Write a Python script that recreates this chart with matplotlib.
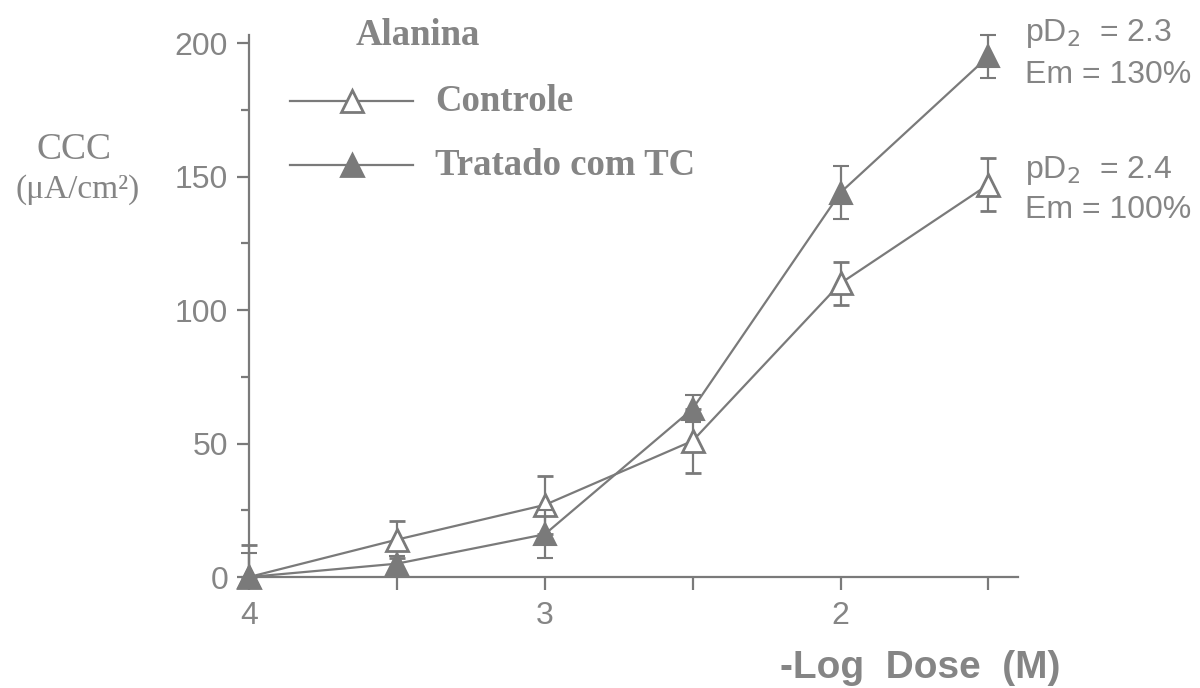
import matplotlib
matplotlib.use("Agg")
import matplotlib.pyplot as plt
from matplotlib.lines import Line2D

# -log dose values (x axis runs 4 -> 1.5)
log_dose = [4, 3.5, 3, 2.5, 2, 1.5]

# Controle (open triangles)
controle = [0, 14, 27, 51, 110, 147]
controle_lo = [0, 7, 11, 12, 8, 10]
controle_hi = [12, 7, 11, 12, 8, 10]

# Tratado com TC (filled triangles)
tratado = [0, 5, 16, 63, 144, 195]
tratado_lo = [0, 3, 9, 5, 10, 8]
tratado_hi = [9, 3, 9, 5, 10, 8]

gray = "#7a7a7a"
text_gray = "#858585"

fig = plt.figure(figsize=(12, 6.88), dpi=100)
ax = fig.add_axes([0.2075, 0.1613, 0.6408, 0.7878])

ax.errorbar(log_dose, controle, yerr=[controle_lo, controle_hi], color=gray, lw=1.6,
            marker="^", ms=16, mfc="white", mec=gray, mew=2,
            capsize=6, capthick=1.6, elinewidth=1.6, clip_on=False, zorder=3)
ax.errorbar(log_dose, tratado, yerr=[tratado_lo, tratado_hi], color=gray, lw=1.6,
            marker="^", ms=16, mfc=gray, mec=gray, mew=1.5,
            capsize=6, capthick=1.6, elinewidth=1.6, clip_on=False, zorder=4)

ax.set_xlim(4, 1.4)
ax.set_ylim(0, 203)
ax.set_xticks([4, 3, 2])
ax.set_xticks([3.5, 2.5, 1.5], minor=True)
ax.set_yticks([0, 50, 100, 150, 200])
ax.set_yticks([25, 75, 125, 175], minor=True)

for s in ["top", "right"]:
    ax.spines[s].set_visible(False)
for s in ["left", "bottom"]:
    ax.spines[s].set_color(gray)
    ax.spines[s].set_linewidth(1.6)

ax.tick_params(which="both", colors=gray, width=1.6, labelcolor=text_gray,
               labelsize=23, direction="out")
ax.tick_params(axis="y", which="major", length=9, pad=6)
ax.tick_params(axis="y", which="minor", length=6)
ax.tick_params(axis="x", which="both", length=9, pad=8)
for lab in ax.get_xticklabels() + ax.get_yticklabels():
    lab.set_fontfamily("Liberation Sans")

# titles / legend drawn by hand like the original figure
serif = "Liberation Serif"
fig.text(0.296, 0.949, "Alanina", fontsize=26.5, fontweight="bold",
         family=serif, color=text_gray, va="center")

legend_y = [0.853, 0.760]
legend_lab = ["Controle", "Tratado com TC"]
legend_fc = ["white", gray]
for yy, lab, fc in zip(legend_y, legend_lab, legend_fc):
    fig.add_artist(Line2D([0.2417, 0.344], [yy, yy], transform=fig.transFigure,
                          color=gray, lw=1.6))
    fig.add_artist(Line2D([0.293], [yy], transform=fig.transFigure, marker="^",
                          ms=16, mfc=fc, mec=gray, mew=2, ls="none"))
    fig.text(0.3625, yy, lab, fontsize=26.5, fontweight="bold", family=serif,
             color=text_gray, va="center")

fig.text(0.062, 0.782, "CCC", fontsize=27, family=serif, color=text_gray,
         ha="center", va="center")
fig.text(0.065, 0.725, "(μA/cm²)", fontsize=24, family=serif,
         color=text_gray, ha="center", va="center")

sans = "Liberation Sans"
fig.text(0.854, 0.951, r"pD$_2$  = 2.3", fontsize=23, family=sans,
         color=text_gray, va="center", math_fontfamily="dejavusans")
fig.text(0.854, 0.891, "Em = 130%", fontsize=23, family=sans,
         color=text_gray, va="center")
fig.text(0.854, 0.752, r"pD$_2$  = 2.4", fontsize=23, family=sans,
         color=text_gray, va="center", math_fontfamily="dejavusans")
fig.text(0.854, 0.695, "Em = 100%", fontsize=23, family=sans,
         color=text_gray, va="center")

fig.text(0.767, 0.029, "-Log  Dose  (M)", fontsize=28, fontweight="bold",
         family=sans, color=text_gray, ha="center", va="center")

fig.savefig("out.png", dpi=100)
